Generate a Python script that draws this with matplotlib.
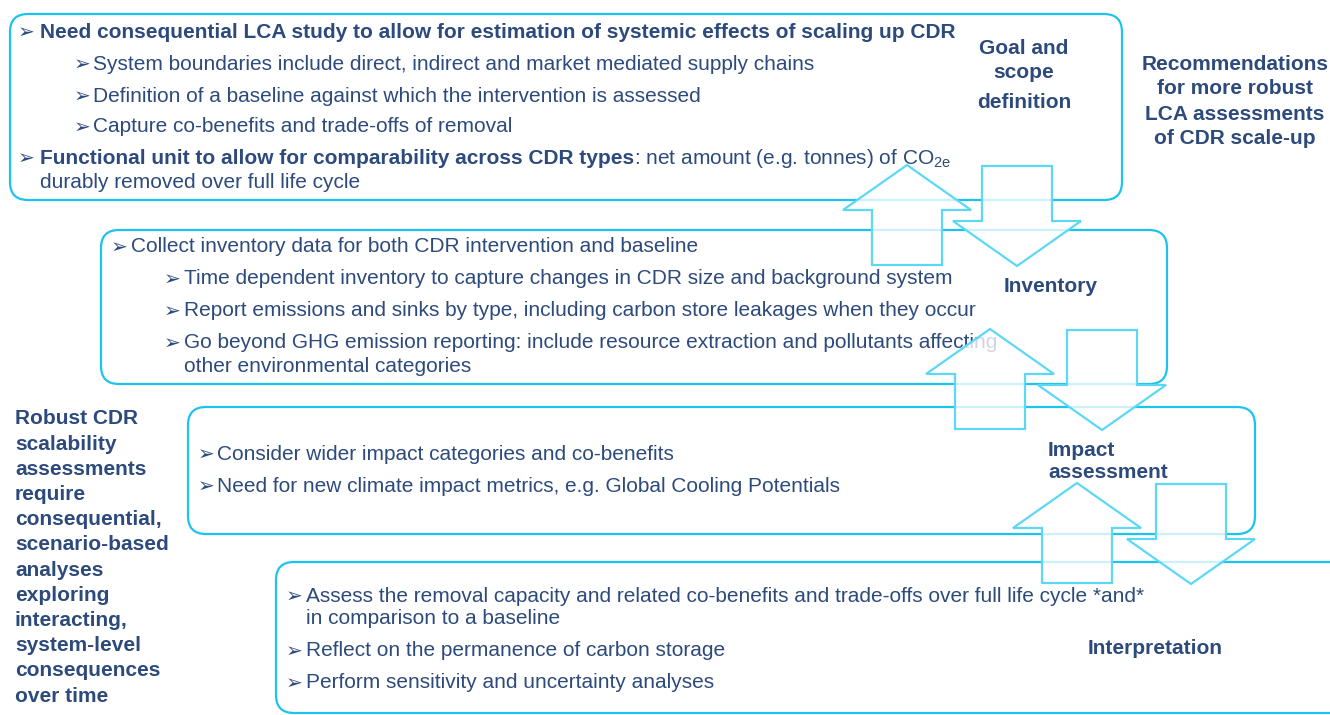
import matplotlib
matplotlib.use('Agg')
import matplotlib.pyplot as plt
from matplotlib.patches import FancyBboxPatch, Polygon

plt.rcParams['font.family'] = ['Liberation Sans', 'DejaVu Sans']
plt.rcParams['mathtext.fontset'] = 'custom'
plt.rcParams['mathtext.rm'] = 'Liberation Sans'

NAVY = '#2d4a7c'
BOX = '#1cc3ef'
ARROW = '#5cd8f6'

# ---- content -----------------------------------------------------------
goal_lines = [
    (0, 'Need consequential LCA study to allow for estimation of systemic effects of scaling up CDR', True),
    (1, 'System boundaries include direct, indirect and market mediated supply chains', False),
    (1, 'Definition of a baseline against which the intervention is assessed', False),
    (1, 'Capture co-benefits and trade-offs of removal', False),
]
goal_fu_bold = 'Functional unit to allow for comparability across CDR types'
goal_fu_rest = ': net amount (e.g. tonnes) of CO$_{\\mathrm{2e}}$'
goal_fu_cont = 'durably removed over full life cycle'

inventory_lines = [
    (0, 'Collect inventory data for both CDR intervention and baseline'),
    (1, 'Time dependent inventory to capture changes in CDR size and background system'),
    (1, 'Report emissions and sinks by type, including carbon store leakages when they occur'),
    (1, 'Go beyond GHG emission reporting: include resource extraction and pollutants affecting'),
    (2, 'other environmental categories'),
]
impact_lines = [
    'Consider wider impact categories and co-benefits',
    'Need for new climate impact metrics, e.g. Global Cooling Potentials',
]
interp_lines = [
    (0, 'Assess the removal capacity and related co-benefits and trade-offs over full life cycle *and*'),
    (2, 'in comparison to a baseline'),
    (0, 'Reflect on the permanence of carbon storage'),
    (0, 'Perform sensitivity and uncertainty analyses'),
]
left_summary = ['Robust CDR', 'scalability', 'assessments', 'require',
                'consequential,', 'scenario-based', 'analyses', 'exploring',
                'interacting,', 'system-level', 'consequences', 'over time']
right_title = ['Recommendations', 'for more robust', 'LCA assessments', 'of CDR scale-up']

# boxes: left, top, right, bottom (pixels)
boxes = [(10, 14, 1122, 200), (101, 230, 1167, 384),
         (188, 407, 1255, 534), (276, 562, 1360, 713)]
# arrow pairs: up-arrow centre x, down-arrow centre x, top y
arrow_pairs = [(907, 1017, 165), (990, 1102, 329), (1077, 1191, 483)]

fig = plt.figure(figsize=(13.3, 7.15), dpi=100)
ax = fig.add_axes([0, 0, 1, 1])
ax.set_xlim(0, 1330)
ax.set_ylim(715, 0)
ax.axis('off')

for l, t, r, b in boxes:
    ax.add_patch(FancyBboxPatch((l, t), r - l, b - t,
                                boxstyle='round,pad=0,rounding_size=18',
                                fc='none', ec=BOX, lw=1.6, zorder=1))

FS = 15
BFS = 14.5
BUL = '\u27a2'


def bullet(x, y, text, bold=False, gap=19):
    ax.text(x - 1, y, BUL, fontsize=BFS, color=NAVY, va='center', ha='left', zorder=2)
    return ax.text(x + gap, y, text, fontsize=FS, color=NAVY, va='center', ha='left',
                   fontweight='bold' if bold else 'normal', zorder=2)


# goal box
gy = [32, 64, 96, 127]
for (lvl, txt, bold), y in zip(goal_lines, gy):
    bullet(19 + lvl * 56, y, txt, bold=bold, gap=21 if lvl == 0 else 18)
ax.text(18, 158, BUL, fontsize=BFS, color=NAVY, va='center', zorder=2)
t1 = ax.text(40, 164, goal_fu_bold, fontsize=FS, color=NAVY, fontweight='bold',
             va='baseline', zorder=2)
fig.canvas.draw()
x_end = ax.transData.inverted().transform(t1.get_window_extent().p1)[0]
ax.text(x_end, 164, goal_fu_rest, fontsize=FS, color=NAVY, va='baseline', zorder=2)
ax.text(40, 182, goal_fu_cont, fontsize=FS, color=NAVY, va='center', zorder=2)

# inventory box
iy = [247, 279, 311, 343, 366]
for (lvl, txt), y in zip(inventory_lines, iy):
    if lvl == 2:
        ax.text(184, y, txt, fontsize=FS, color=NAVY, va='center', zorder=2)
    else:
        bullet(112 + lvl * 53, y, txt)

# impact box
for txt, y in zip(impact_lines, [454, 486]):
    bullet(199, y, txt, gap=18)

# interpretation box
py = [596, 619, 651, 683]
for (lvl, txt), y in zip(interp_lines, py):
    if lvl == 2:
        ax.text(306, y, txt, fontsize=FS, color=NAVY, va='center', zorder=2)
    else:
        bullet(287, y, txt)

# stage labels
LB = dict(fontsize=FS, color=NAVY, fontweight='bold', va='center', zorder=2)
ax.text(1024, 49, 'Goal and', ha='center', **LB)
ax.text(1024, 72, 'scope', ha='center', **LB)
ax.text(1024, 103, 'definition', ha='center', **LB)
ax.text(1051, 287, 'Inventory', ha='center', **LB)
ax.text(1048, 451, 'Impact', ha='left', **LB)
ax.text(1048, 473, 'assessment', ha='left', **LB)
ax.text(1155, 648, 'Interpretation', ha='center', **LB)

for i, txt in enumerate(right_title):
    ax.text(1235, 64 + i * 25, txt, ha='center', **LB)
for i, txt in enumerate(left_summary):
    ax.text(15, 419 + i * 25.2, txt, ha='left', **LB)

# arrows
SH, HD, HH, LEN = 35, 64, 45, 100


def up_arrow(cx, top):
    pts = [(cx, top), (cx + HD, top + HH), (cx + SH, top + HH), (cx + SH, top + LEN),
           (cx - SH, top + LEN), (cx - SH, top + HH), (cx - HD, top + HH)]
    ax.add_patch(Polygon(pts, closed=True, fc=(1, 1, 1, 0.78), ec=ARROW, lw=1.6, zorder=3))


def down_arrow(cx, top):
    bot = top + LEN
    pts = [(cx - SH, top), (cx + SH, top), (cx + SH, bot - HH), (cx + HD, bot - HH),
           (cx, bot), (cx - HD, bot - HH), (cx - SH, bot - HH)]
    ax.add_patch(Polygon(pts, closed=True, fc=(1, 1, 1, 0.78), ec=ARROW, lw=1.6, zorder=3))


for ux, dx, top in arrow_pairs:
    up_arrow(ux, top)
    down_arrow(dx, top + 1)

fig.savefig('out.png', dpi=100)
